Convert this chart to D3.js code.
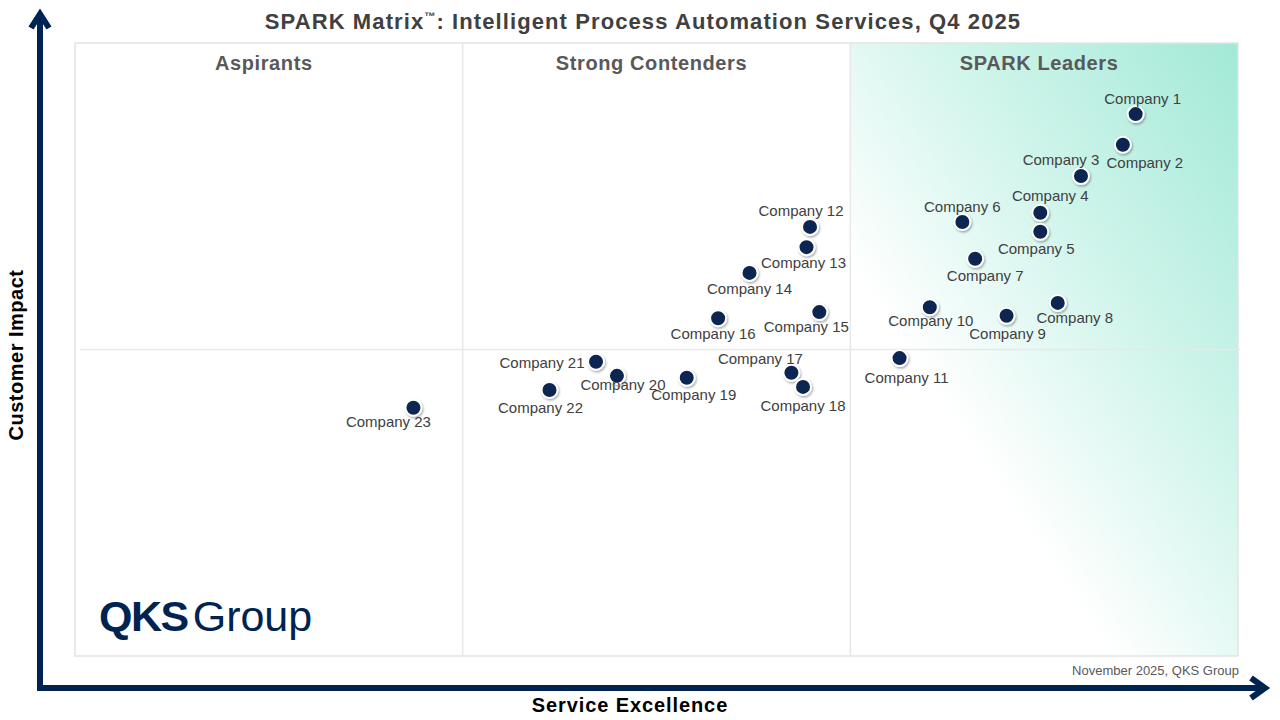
<!DOCTYPE html>
<html>
<head>
<meta charset="utf-8">
<script src="https://cdn.jsdelivr.net/npm/d3@7"></script>
<style>
  body { margin: 0; background: #fff; }
  svg { display: block; font-family: "Liberation Sans", Arial, sans-serif; }
</style>
</head>
<body>
<svg id="chart" width="1280" height="720"></svg>
<script>
// vendors and their scores (0-100 on both axes)
var companies = ['Company 1', 'Company 2', 'Company 3', 'Company 4', 'Company 5', 'Company 6',
  'Company 7', 'Company 8', 'Company 9', 'Company 10', 'Company 11', 'Company 12', 'Company 13',
  'Company 14', 'Company 15', 'Company 16', 'Company 17', 'Company 18', 'Company 19',
  'Company 20', 'Company 21', 'Company 22', 'Company 23'];
var serviceExcellence = [91.2, 90.1, 86.5, 83.0, 83.0, 76.3, 77.4, 84.5, 80.1, 73.5, 70.9, 63.2,
  62.9, 58.0, 64.0, 55.3, 61.6, 62.6, 52.6, 46.6, 44.8, 40.8, 29.1];
var customerImpact = [88.4, 83.4, 78.3, 72.3, 69.2, 70.8, 64.8, 57.6, 55.5, 56.9, 48.6, 70.0,
  66.7, 62.5, 56.1, 55.1, 46.2, 43.9, 45.4, 45.7, 48.0, 43.4, 40.5];
var quadrants = ['Aspirants', 'Strong Contenders', 'SPARK Leaders'];

// label placement around each dot, in px (layout only)
var labelDx = [7, 22, -20, 10, -4, 0, 10, 17, 1, 1, 7, -9, -3, 0, -13, -5, -31, 0, 7, 6, -54, -9, -25];
var labelDy = [-15, 18, -16, -17, 17, -15, 17, 15, 18, 14, 20, -16, 16, 16, 15, 16, -14, 19, 17, 9, 1, 18, 14];

var navy = '#002451';
var svg = d3.select('#chart');
// note: "top" is taken by window.top, so use other names
var plotL = 75, plotR = 1238, plotT = 43, plotB = 656;

var x = d3.scaleLinear().domain([0, 100]).range([plotL, plotR]);
var y = d3.scaleLinear().domain([0, 100]).range([plotB, plotT]);
var band = d3.scaleBand().domain(quadrants).range([plotL, plotR]);

var defs = svg.append('defs');
// diagonal wash: teal in the top-right corner fading to white towards the middle
var grad = defs.append('linearGradient')
  .attr('id', 'leaderGrad')
  .attr('gradientUnits', 'userSpaceOnUse')
  .attr('x1', plotR).attr('y1', plotT).attr('x2', 866).attr('y2', 291);
grad.append('stop').attr('offset', 0).attr('stop-color', '#a2e9d6');
grad.append('stop').attr('offset', 0.55).attr('stop-color', '#d2f5ec');
grad.append('stop').attr('offset', 1).attr('stop-color', '#ffffff');

var shadow = defs.append('filter').attr('id', 'shadow')
  .attr('x', '-50%').attr('y', '-50%').attr('width', '200%').attr('height', '200%');
shadow.append('feDropShadow').attr('dx', 1).attr('dy', 1.5).attr('stdDeviation', 1.2)
  .attr('flood-color', '#000').attr('flood-opacity', 0.35);

// leaders background
svg.append('rect')
  .attr('x', band('SPARK Leaders')).attr('y', plotT)
  .attr('width', band.bandwidth()).attr('height', plotB - plotT)
  .attr('fill', 'url(#leaderGrad)');

// frame and dividers
svg.append('rect')
  .attr('x', plotL).attr('y', plotT).attr('width', plotR - plotL).attr('height', plotB - plotT)
  .attr('fill', 'none').attr('stroke', '#e3e3e3').attr('stroke-width', 1.5);

svg.selectAll('.vdiv')
  .data(quadrants.slice(1))
  .enter().append('line')
  .attr('x1', function (d) { return band(d); })
  .attr('x2', function (d) { return band(d); })
  .attr('y1', plotT).attr('y2', plotB)
  .attr('stroke', '#e8e8e8').attr('stroke-width', 1.5);

svg.append('line')
  .attr('x1', plotL + 5).attr('x2', plotR + 2)
  .attr('y1', y(50)).attr('y2', y(50))
  .attr('stroke', '#e8e8e8').attr('stroke-width', 1.5);

// quadrant headings
svg.selectAll('.qlabel')
  .data(quadrants)
  .enter().append('text')
  .attr('x', function (d) { return band(d) + band.bandwidth() / 2 - 5; })
  .attr('y', 70)
  .attr('text-anchor', 'middle')
  .attr('font-size', 20).attr('font-weight', 'bold').attr('letter-spacing', 0.6)
  .attr('fill', '#595959')
  .text(function (d) { return d; });

// title
var title = svg.append('text')
  .attr('x', 643).attr('y', 29)
  .attr('text-anchor', 'middle')
  .attr('font-size', 22).attr('font-weight', 'bold').attr('letter-spacing', 1.1)
  .attr('fill', '#404040');
title.append('tspan').text('SPARK Matrix');
title.append('tspan').attr('font-size', 11).attr('dy', -9).text('™');
title.append('tspan').attr('dy', 9).text(': Intelligent Process Automation Services, Q4 2025');

// axes arrows
svg.append('path')
  .attr('d', 'M40,691 L40,14 M31,28 L40,14 L49,28')
  .attr('fill', 'none').attr('stroke', navy).attr('stroke-width', 6)
  .attr('stroke-linejoin', 'miter').attr('stroke-linecap', 'butt');
svg.append('path')
  .attr('d', 'M37,688 L1264,688 M1251,678 L1265,688 L1251,698')
  .attr('fill', 'none').attr('stroke', navy).attr('stroke-width', 6)
  .attr('stroke-linejoin', 'miter').attr('stroke-linecap', 'butt');

svg.append('text')
  .attr('transform', 'translate(23,355) rotate(-90)')
  .attr('text-anchor', 'middle')
  .attr('font-size', 20).attr('font-weight', 'bold').attr('letter-spacing', 0.5).attr('fill', '#000')
  .text('Customer Impact');

svg.append('text')
  .attr('x', 630).attr('y', 712)
  .attr('text-anchor', 'middle')
  .attr('font-size', 20).attr('font-weight', 'bold').attr('letter-spacing', 0.9).attr('fill', '#000')
  .text('Service Excellence');

svg.append('text')
  .attr('x', 1239).attr('y', 675)
  .attr('text-anchor', 'end')
  .attr('font-size', 13).attr('fill', '#595959')
  .text('November 2025, QKS Group');

// logo
var logo = svg.append('text')
  .attr('x', 99).attr('y', 631)
  .attr('font-size', 43).attr('fill', navy);
logo.append('tspan').attr('font-weight', 900).attr('letter-spacing', -1.5).text('QKS');
logo.append('tspan').attr('dx', 5).attr('font-weight', 'normal').text('Group');

// points
var idx = d3.range(companies.length);

svg.selectAll('.dot')
  .data(idx)
  .enter().append('circle')
  .attr('cx', function (i) { return x(serviceExcellence[i]); })
  .attr('cy', function (i) { return y(customerImpact[i]); })
  .attr('r', 8)
  .attr('fill', '#0a2551')
  .attr('stroke', '#fff').attr('stroke-width', 2)
  .attr('filter', 'url(#shadow)');

svg.selectAll('.lbl')
  .data(idx)
  .enter().append('text')
  .attr('x', function (i) { return x(serviceExcellence[i]) + labelDx[i]; })
  .attr('y', function (i) { return y(customerImpact[i]) + labelDy[i]; })
  .attr('dy', '0.35em')
  .attr('text-anchor', 'middle')
  .attr('font-size', 15).attr('fill', '#404040')
  .text(function (i) { return companies[i]; });
</script>
</body>
</html>
